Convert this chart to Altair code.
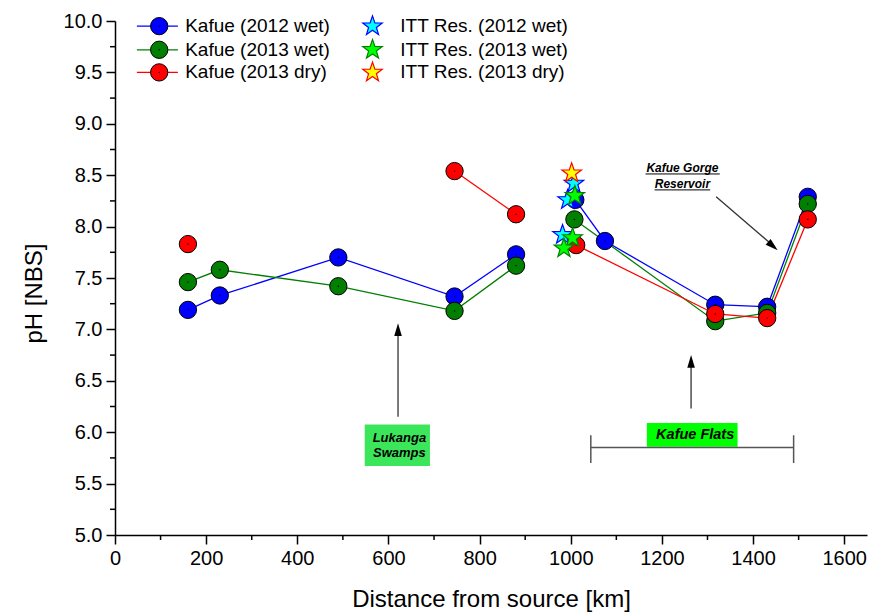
import math

import altair as alt
import pandas as pd

FONT = "Liberation Sans"

# ---- sampling data: distance from source [km] and pH [NBS] ----
# Kafue river, 2012 wet season (segment id keeps the gap near 950 km)
k12w_km = [160, 230, 490, 745, 880, 1010, 1075, 1317, 1431, 1520]
k12w_ph = [7.19, 7.33, 7.70, 7.32, 7.73, 8.26, 7.86, 7.24, 7.22, 8.29]
k12w_seg = [1, 1, 1, 1, 1, 2, 2, 2, 2, 2]

# Kafue river, 2013 wet season
k13w_km = [160, 230, 490, 745, 880, 1008, 1317, 1431, 1520]
k13w_ph = [7.46, 7.58, 7.42, 7.18, 7.62, 8.07, 7.08, 7.16, 8.22]
k13w_seg = [1, 1, 1, 1, 1, 2, 2, 2, 2]

# Kafue river, 2013 dry season
k13d_km = [160, 745, 880, 1012, 1317, 1431, 1520]
k13d_ph = [7.83, 8.54, 8.12, 7.82, 7.15, 7.11, 8.07]
k13d_seg = [0, 1, 1, 2, 2, 2, 2]

# Itezhi-Tezhi reservoir profiles
itt12w_km = [1007, 993, 982]
itt12w_ph = [8.42, 8.26, 7.92]
itt13w_km = [1009, 1004, 985]
itt13w_ph = [8.30, 7.89, 7.79]
itt13d_km = [1002]
itt13d_ph = [8.52]

river_names = ["Kafue (2012 wet)", "Kafue (2013 wet)", "Kafue (2013 dry)"]
res_names = ["ITT Res. (2012 wet)", "ITT Res. (2013 wet)", "ITT Res. (2013 dry)"]

# axis ticks
x_major = list(range(0, 1601, 200))
x_minor = list(range(100, 1601, 200))
y_major = [5 + 0.5 * i for i in range(11)]
y_minor = [5.25 + 0.5 * i for i in range(10)]

# ---- styles ----
river_colors = ["#0000ff", "#007f00", "#ff0000"]
res_fill = ["#00ffff", "#00ff00", "#ffff00"]
res_stroke = ["#0000ff", "#008000", "#ff0000"]

W, H = 752, 514


def star_path(inner=0.40):
    pts = []
    for k in range(10):
        r = 1.0 if k % 2 == 0 else inner
        t = math.radians(-90 + 36 * k)
        pts.append(f"{r * math.cos(t):.4f},{r * math.sin(t):.4f}")
    return "M" + " L".join(pts) + " Z"


STAR_SHAPE = star_path()
# arrow head with its tip on the anchor point, pointing up before rotation
ARROW_HEAD = "M0,0 L-0.3,1 L0.3,1 Z"

xscale = alt.Scale(domain=[0, 1650], nice=False, zero=False)
yscale = alt.Scale(domain=[5, 10], nice=False, zero=False)

x_axis = alt.Axis(
    values=x_major, format="d", tickSize=9,
    labelFlush=False, labelOverlap=False, labelPadding=4,
    titleY=71, titleBaseline="alphabetic",
)
y_axis = alt.Axis(
    values=y_major, format=".1f", tickSize=9,
    labelOverlap=False, labelPadding=4,
    titleX=-74, titleY=272, titleAngle=270, titleBaseline="alphabetic",
)


def X(field="km", **kw):
    return alt.X(f"{field}:Q", scale=xscale, axis=x_axis, title="Distance from source [km]", **kw)


def Y(field="ph", **kw):
    return alt.Y(f"{field}:Q", scale=yscale, axis=y_axis, title="pH [NBS]", **kw)


river = [
    pd.DataFrame({"km": k12w_km, "ph": k12w_ph, "seg": k12w_seg}),
    pd.DataFrame({"km": k13w_km, "ph": k13w_ph, "seg": k13w_seg}),
    pd.DataFrame({"km": k13d_km, "ph": k13d_ph, "seg": k13d_seg}),
]
reservoir = [
    pd.DataFrame({"km": itt12w_km, "ph": itt12w_ph}),
    pd.DataFrame({"km": itt13w_km, "ph": itt13w_ph}),
    pd.DataFrame({"km": itt13d_km, "ph": itt13d_ph}),
]

layers = []

# minor ticks on both axes
layers.append(
    alt.Chart(pd.DataFrame({"km": x_minor})).mark_rule(color="black", strokeWidth=1.5)
    .encode(x=X(), y=alt.value(H), y2=alt.value(H + 5))
)
layers.append(
    alt.Chart(pd.DataFrame({"ph": y_minor})).mark_rule(color="black", strokeWidth=1.5)
    .encode(y=Y(), x=alt.value(-5), x2=alt.value(0))
)

# connecting lines
for df, col in zip(river, river_colors):
    layers.append(
        alt.Chart(df).mark_line(color=col, strokeWidth=1.3)
        .encode(x=X(), y=Y(), detail="seg:N")
    )

# circle markers
CIRCLE = 300
for df, col in zip(river, river_colors):
    layers.append(
        alt.Chart(df).mark_point(shape="circle", filled=True, fill=col, stroke="black",
                                 strokeWidth=1, size=CIRCLE, opacity=1)
        .encode(x=X(), y=Y())
    )
    layers.append(
        alt.Chart(df).mark_point(shape="circle", filled=True, color="black", size=2, opacity=1)
        .encode(x=X(), y=Y())
    )

# reservoir stars
STAR = 420
for df, f, s in zip(reservoir, res_fill, res_stroke):
    layers.append(
        alt.Chart(df).mark_point(shape=STAR_SHAPE, filled=True, fill=f, stroke=s,
                                 strokeWidth=1.2, size=STAR, opacity=1)
        .encode(x=X(), y=Y())
    )

# ---- annotations ----
TXT = dict(font=FONT, fontStyle="italic", fontWeight="bold", color="black")

# Lukanga Swamps label
luk_box = pd.DataFrame({"x": [548], "x2": [691], "y": [5.67], "y2": [6.076]})
layers.append(alt.Chart(luk_box).mark_rect(color="#3ce65a")
              .encode(x=X("x"), x2="x2:Q", y=Y("y"), y2="y2:Q"))
luk_txt = pd.DataFrame({"x": [624, 624], "y": [5.946, 5.797], "t": ["Lukanga", "Swamps"]})
layers.append(alt.Chart(luk_txt).mark_text(fontSize=13, **TXT)
              .encode(x=X("x"), y=Y("y"), text="t:N"))

# Kafue Flats label and bracket
flats_box = pd.DataFrame({"x": [1167], "x2": [1366], "y": [5.858], "y2": [6.09]})
layers.append(alt.Chart(flats_box).mark_rect(color="#00ff00")
              .encode(x=X("x"), x2="x2:Q", y=Y("y"), y2="y2:Q"))
flats_txt = pd.DataFrame({"x": [1273], "y": [5.975], "t": ["Kafue Flats"]})
layers.append(alt.Chart(flats_txt).mark_text(fontSize=14.5, **TXT)
              .encode(x=X("x"), y=Y("y"), text="t:N"))
bracket = pd.DataFrame({
    "x": [1044, 1044, 1489], "x2": [1489, 1044, 1489],
    "y": [5.85, 5.70, 5.70], "y2": [5.85, 5.97, 5.97],
})
layers.append(alt.Chart(bracket).mark_rule(color="#555555", strokeWidth=1.5)
              .encode(x=X("x"), x2="x2:Q", y=Y("y"), y2="y2:Q"))

# Kafue Gorge Reservoir label (underlined)
gorge_txt = pd.DataFrame({"x": [1245, 1245], "y": [8.573, 8.418], "t": ["Kafue Gorge", "Reservoir"]})
layers.append(alt.Chart(gorge_txt).mark_text(fontSize=12, **TXT)
              .encode(x=X("x"), y=Y("y"), text="t:N"))
gorge_ul = pd.DataFrame({"x": [1164, 1184], "x2": [1327, 1306], "y": [8.512, 8.357]})
layers.append(alt.Chart(gorge_ul).mark_rule(color="black", strokeWidth=1)
              .encode(x=X("x"), x2="x2:Q", y=Y("y"), y2="y:Q"))

# arrow shafts and heads
shafts = pd.DataFrame({
    "x": [621, 1264, 1319], "x2": [621, 1264, 1448],
    "y": [6.15, 6.23, 8.29], "y2": [6.98, 6.67, 7.80],
})
layers.append(alt.Chart(shafts).mark_rule(color="#333333", strokeWidth=1.3)
              .encode(x=X("x"), x2="x2:Q", y=Y("y"), y2="y2:Q"))
heads = pd.DataFrame({"x": [621, 1264, 1454], "y": [7.06, 6.75, 7.77], "a": [0, 0, 131]})
layers.append(alt.Chart(heads).mark_point(shape=ARROW_HEAD, filled=True, color="black",
                                          size=640, opacity=1)
              .encode(x=X("x"), y=Y("y"), angle=alt.Angle("a:Q", scale=None)))

# ---- legend (upper-left corner of the plot) ----
LEG_ROWS = [9.95, 9.72, 9.50]
LEG_FONT = 19
for name, col, row in zip(river_names, river_colors, LEG_ROWS):
    seg = pd.DataFrame({"x": [48], "x2": [138], "y": [row]})
    layers.append(alt.Chart(seg).mark_rule(color=col, strokeWidth=1.3)
                  .encode(x=X("x"), x2="x2:Q", y=Y("y")))
    sym = pd.DataFrame({"x": [97], "y": [row]})
    layers.append(alt.Chart(sym).mark_point(shape="circle", filled=True, fill=col, stroke="black",
                                            strokeWidth=1, size=CIRCLE, opacity=1)
                  .encode(x=X("x"), y=Y("y")))
    layers.append(alt.Chart(sym).mark_point(shape="circle", filled=True, color="black", size=2, opacity=1)
                  .encode(x=X("x"), y=Y("y")))
    lab = pd.DataFrame({"x": [154], "y": [row], "t": [name]})
    layers.append(alt.Chart(lab).mark_text(align="left", baseline="middle", font=FONT, fontSize=LEG_FONT, color="black")
                  .encode(x=X("x"), y=Y("y"), text="t:N"))

for name, f, s, row in zip(res_names, res_fill, res_stroke, LEG_ROWS):
    sym = pd.DataFrame({"x": [565], "y": [row]})
    layers.append(alt.Chart(sym).mark_point(shape=STAR_SHAPE, filled=True, fill=f, stroke=s,
                                            strokeWidth=1.2, size=STAR, opacity=1)
                  .encode(x=X("x"), y=Y("y")))
    lab = pd.DataFrame({"x": [626], "y": [row], "t": [name]})
    layers.append(alt.Chart(lab).mark_text(align="left", baseline="middle", font=FONT, fontSize=LEG_FONT, color="black")
                  .encode(x=X("x"), y=Y("y"), text="t:N"))

chart = (
    alt.layer(*layers)
    .properties(
        width=W, height=H,
        autosize=alt.AutoSizeParams(type="none"),
        padding={"left": 115, "top": 21, "right": 19, "bottom": 80},
        background="white",
    )
    .configure_view(stroke=None)
    .configure_axis(
        grid=False, domainColor="black", domainWidth=1.5, tickColor="black", tickWidth=1.5,
        labelFont=FONT, labelFontSize=20, labelColor="black",
        titleFont=FONT, titleFontSize=24, titleFontWeight="normal", titleColor="black",
    )
)

chart.save("out.html", embed_options={"renderer": "svg", "actions": False})
